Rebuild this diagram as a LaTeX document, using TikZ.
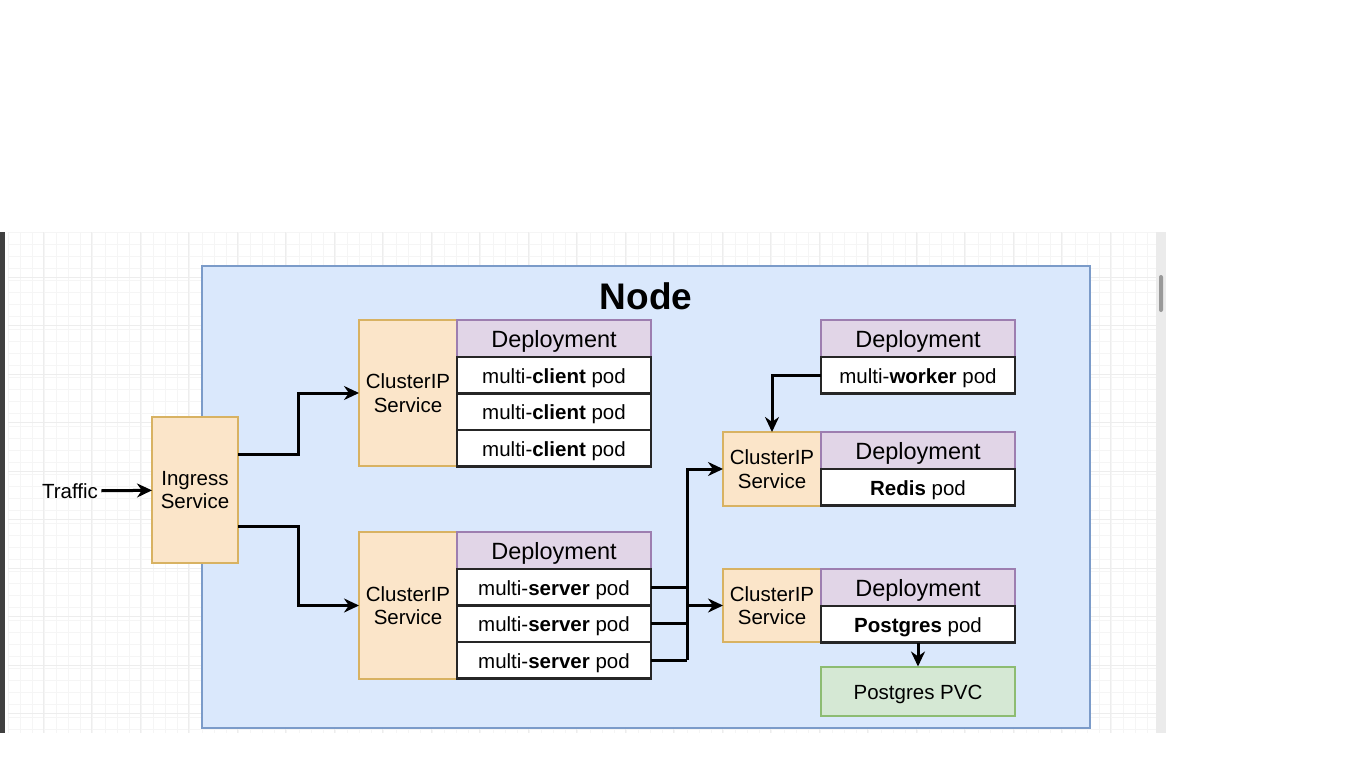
\documentclass[tikz,border=0pt]{standalone}
\usepackage{fontspec}
\setmainfont{Liberation Sans}
\usetikzlibrary{positioning,arrows.meta}
\definecolor{nodefill}{HTML}{DAE8FC}
\definecolor{nodeline}{HTML}{7B9BC9}
\definecolor{svcfill}{HTML}{FBE5C9}
\definecolor{svcline}{HTML}{D8B262}
\definecolor{depfill}{HTML}{E1D5E7}
\definecolor{depline}{HTML}{9D7EB0}
\definecolor{pvcfill}{HTML}{D5E8D4}
\definecolor{pvcline}{HTML}{8DBC72}
\tikzset{
  svc/.style={draw=svcline,fill=svcfill,line width=2pt,anchor=north west,inner sep=0pt,outer sep=0pt,
    minimum width=98pt,align=center,font=\fontsize{20.5}{23.5}\selectfont},
  deploy/.style={draw=depline,fill=depfill,line width=2pt,anchor=north west,inner sep=0pt,outer sep=0pt,
    minimum width=194pt,minimum height=37pt,text height=18pt,text depth=0pt,
    font=\fontsize{23.5}{26}\selectfont},
  pod/.style={draw=black!85,fill=white,line width=2.2pt,inner sep=0pt,outer sep=0pt,
    minimum width=194pt,minimum height=36.5pt,text height=16pt,text depth=0pt,
    font=\fontsize{20.5}{23}\selectfont},
  flow/.style={-{Stealth[length=15pt,width=14pt]},line width=3pt},
  wire/.style={line width=3pt},
  gridline/.style={line width=1pt,black!4}
}
\begin{document}
\begin{tikzpicture}[x=1pt,y=-1pt]
\useasboundingbox (0,0) rectangle (1366,768);
\fill[white] (0,0) rectangle (1366,768);

% Canvas grid
\foreach \x in {8,20.125,...,1156} {
    \draw[gridline] (\x,232) -- (\x,733);
}
\foreach \y in {232,244.125,...,733} {
    \draw[gridline] (8,\y) -- (1156,\y);
}
\foreach \x in {43,91.5,...,1156} {
    \draw[gridline,black!7] (\x,232) -- (\x,733);
}
\foreach \y in {277,325.5,...,733} {
    \draw[gridline,black!7] (8,\y) -- (1156,\y);
}
\fill[black!75] (0,232) rectangle (5,733);
\fill[black!8] (1156,232) rectangle (1166,733);
\fill[black!40,rounded corners=2] (1159,275) rectangle (1163,312);

% Node
\node[draw=nodeline,fill=nodefill,line width=2pt,anchor=north west,inner sep=0pt,
      minimum width=888pt,minimum height=462pt] (node) at (201,265) {};
\node[font=\bfseries\fontsize{37}{40}\selectfont] (title) at (646,296) {Node};

% Ingress
\node[svc,minimum width=86pt,minimum height=146pt] (ing) at (152,417) {Ingress\\Service};
\node[font=\fontsize{20.5}{23}\selectfont] (traffic) at (70,491) {Traffic};
\draw[flow] (traffic) -- (ing);

% Client deployment
\node[svc,minimum height=146pt] (sa) at (359,320) {ClusterIP\\Service};
\node[deploy] (c0) at (457,320) {Deployment};
\foreach \i [remember=\i as \j (initially 0)] in {1,2,3} {
    \node[pod,below=0pt of c\j] (c\i) {multi-\textbf{client} pod};
}

% Server deployment
\node[svc,minimum height=147pt] (sb) at (359,532) {ClusterIP\\Service};
\node[deploy] (s0) at (457,532) {Deployment};
\foreach \i [remember=\i as \j (initially 0)] in {1,2,3} {
    \node[pod,below=0pt of s\j] (s\i) {multi-\textbf{server} pod};
}

% Worker deployment
\node[deploy] (w0) at (821,320) {Deployment};
\node[pod,below=0pt of w0] (w1) {multi-\textbf{worker} pod};

% Redis
\node[svc,minimum height=74pt] (sr) at (723,432) {ClusterIP\\Service};
\node[deploy] (r0) at (821,432) {Deployment};
\node[pod,below=0pt of r0] (r1) {\textbf{Redis} pod};

% Postgres
\node[svc,minimum height=73pt] (sp) at (723,569) {ClusterIP\\Service};
\node[deploy] (p0) at (821,569) {Deployment};
\node[pod,below=0pt of p0] (p1) {\textbf{Postgres} pod};
\node[draw=pvcline,fill=pvcfill,line width=2pt,inner sep=0pt,outer sep=0pt,
      minimum width=194pt,minimum height=49pt,text height=16pt,text depth=0pt,
      font=\fontsize{20.5}{23}\selectfont,below=24pt of p1] (pvc) {Postgres PVC};

% Connectors
\draw[flow] ([yshift=36pt]ing.east) -- ++(60,0) |- (sa.west);
\draw[flow] ([yshift=-36pt]ing.east) -- ++(60,0) |- (sb.west);
\coordinate (bus) at ([xshift=36pt]s3.east);
\draw[wire] (s1.east) -- (s1.east -| bus);
\draw[wire] (s2.east) -- (s2.east -| bus);
\draw[wire] (s3.east) -- (bus);
\draw[flow] (bus) |- (sr.west);
\draw[flow] (bus |- sp.west) -- (sp.west);
\draw[flow] (w1.west) -| (sr.north);
\draw[flow] (p1.south) -- (pvc.north);
\end{tikzpicture}
\end{document}
